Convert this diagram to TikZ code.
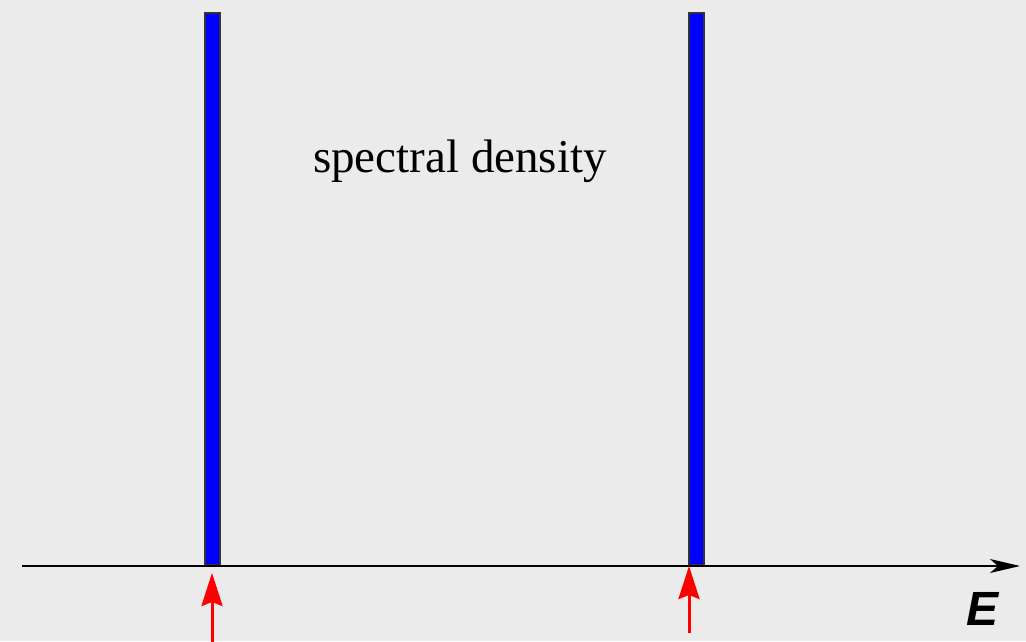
\documentclass[tikz,border=0pt]{standalone}
\usepackage{fontspec}
\setmainfont{Liberation Serif}
\newfontfamily\labelfont{Liberation Sans}
\usetikzlibrary{arrows.meta}
\definecolor{bg}{HTML}{EBEBEB}
\definecolor{barblue}{HTML}{0000FF}
\tikzset{
  peak/.style={draw=black!80, line width=1.5pt, fill=barblue},
  axisline/.style={line width=1.5pt, -{Stealth[length=30pt,width=14pt,inset=8pt]}},
  marker/.style={red, line width=3pt, -{Stealth[length=33pt,width=21pt,inset=4pt]}},
}
\begin{document}
\begin{tikzpicture}[x=1pt,y=-1pt]
\fill[bg] (0,0) rectangle (1026,641);
\useasboundingbox (0,0) rectangle (1026,641);
\draw[peak] (205,13) rectangle (220,565);
\draw[peak] (689,13) rectangle (704,565);
\coordinate (axstart) at (22,566);
\coordinate (axend) at (1020,566);
\draw[axisline] (axstart) -- (axend);
\node[font=\fontsize{47}{50}\selectfont, anchor=base] (title) at (460,172) {spectral density};
\node[font=\labelfont\bfseries\itshape\fontsize{48}{50}\selectfont] (elabel) at (982,609) {E};
\coordinate (a1s) at (212,645);
\coordinate (a1e) at (212,573);
\coordinate (a2s) at (689,633);
\coordinate (a2e) at (689,566);
\draw[marker] (a1s) -- (a1e);
\draw[marker] (a2s) -- (a2e);
\end{tikzpicture}
\end{document}
